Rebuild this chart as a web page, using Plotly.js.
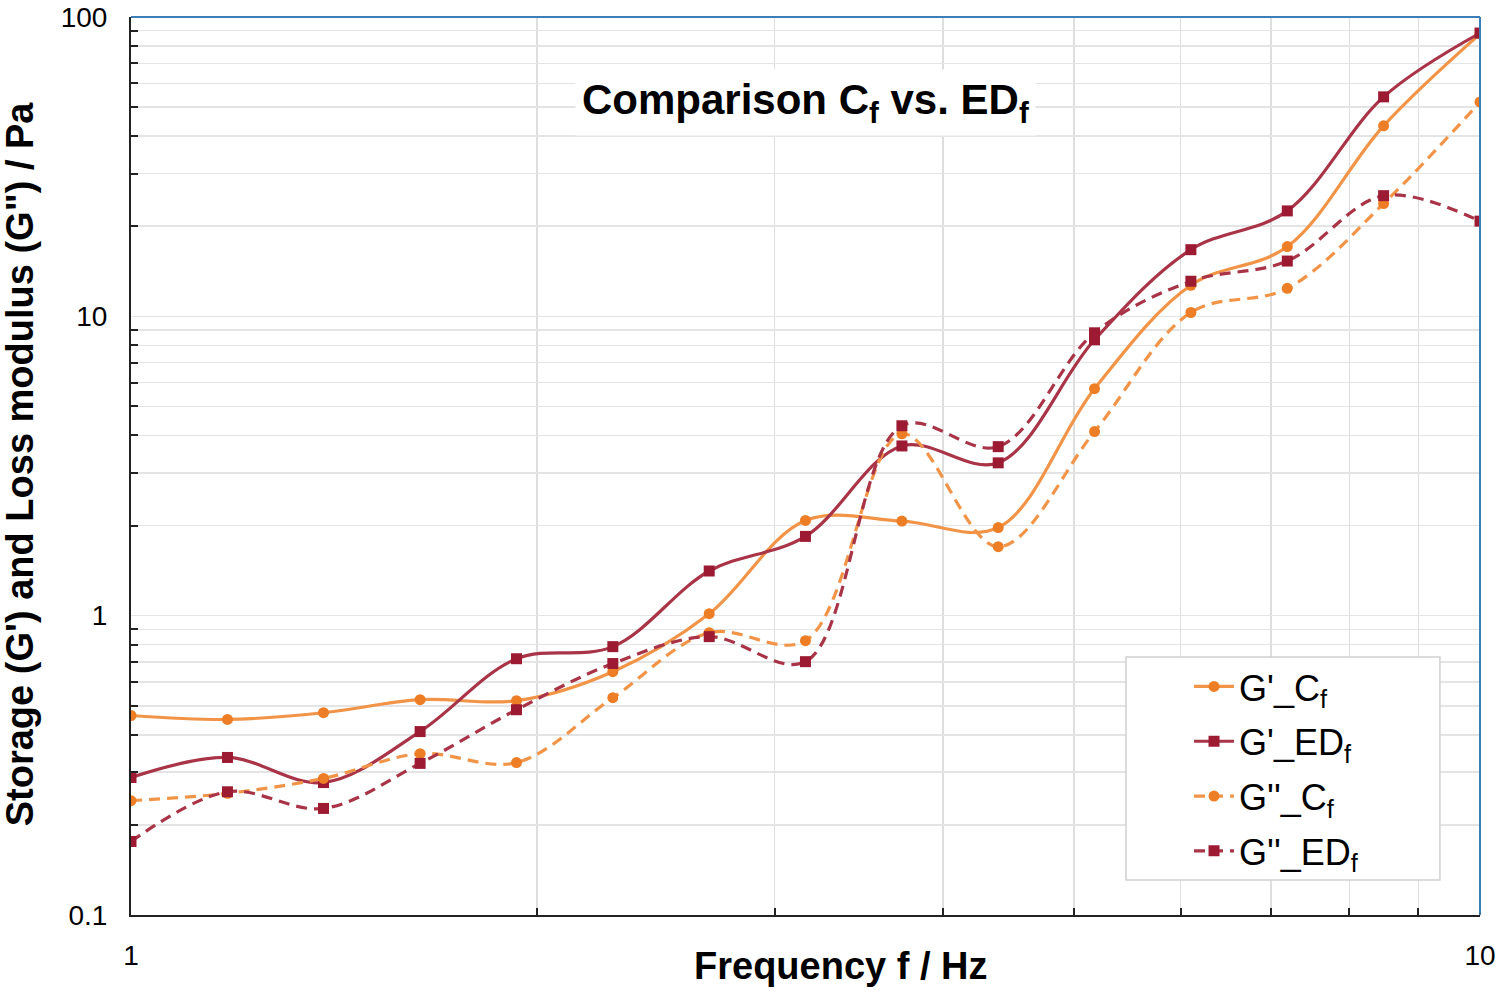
<!DOCTYPE html>
<html>
<head>
<meta charset="utf-8">
<script src="https://cdn.plot.ly/plotly-3.0.1.min.js"></script>
<style>html,body{margin:0;padding:0;background:#fff;}#chart{width:1500px;height:991px;}</style>
</head>
<body>
<div id="chart"></div>
<script>
// Frequencies (Hz)
const freq = [1, 1.179, 1.389, 1.638, 1.931, 2.276, 2.683, 3.162, 3.728, 4.394, 5.179, 6.105, 7.197, 8.483, 10];
// Moduli (Pa)
const gpC   = [0.464, 0.450, 0.474, 0.524, 0.520, 0.650, 1.015, 2.08, 2.07, 1.97, 5.73, 12.7, 17.1, 43.3, 87.8];
const gpED  = [0.288, 0.336, 0.277, 0.410, 0.718, 0.788, 1.41, 1.84, 3.69, 3.24, 8.35, 16.7, 22.5, 54.1, 88.4];
const gppC  = [0.241, 0.255, 0.286, 0.346, 0.323, 0.532, 0.877, 0.825, 4.05, 1.70, 4.12, 10.3, 12.4, 23.8, 52.0];
const gppED = [0.176, 0.258, 0.227, 0.321, 0.485, 0.692, 0.851, 0.702, 4.31, 3.67, 8.81, 13.1, 15.3, 25.3, 20.8];
const names = ["G'_C<sub>f</sub>", "G'_ED<sub>f</sub>", "G''_C<sub>f</sub>", "G''_ED<sub>f</sub>"];

const orangeLine = '#F29447', orangeMk = '#EE7E25';
const redLine = '#A93448', redMk = '#9C1B33';

function tr(y, name, lc, mc, sym, dash, grp) {
  return {
    x: freq, y: y, name: name, type: 'scatter', mode: 'lines+markers',
    legendgroup: grp,
    line: {color: lc, width: 3.2, shape: 'spline', smoothing: 1, dash: dash},
    marker: {color: mc, size: sym === 'square' ? 11 : 11, symbol: sym}
  };
}
const data = [
  tr(gpC, names[0], orangeLine, orangeMk, 'circle', 'solid', 'a'),
  tr(gpED, names[1], redLine, redMk, 'square', 'solid', 'b'),
  tr(gppC, names[2], orangeLine, orangeMk, 'circle', '11px,7px', 'c'),
  tr(gppED, names[3], redLine, redMk, 'square', '11px,7px', 'd')
];

const layout = {
  width: 1500, height: 991,
  margin: {l: 131, r: 20, t: 17, b: 76},
  paper_bgcolor: '#fff', plot_bgcolor: '#fff',
  font: {family: 'Liberation Sans, Arial, sans-serif', color: '#000'},
  showlegend: true,
  xaxis: {
    type: 'log', range: [0, 1],
    tickvals: [1, 10], ticktext: ['1', '10'],
    tickfont: {size: 28}, ticks: '',
    showgrid: false,
    showline: true, linecolor: '#222', linewidth: 2,
    zeroline: false,
    minor: {tickvals: [2,3,4,5,6,7,8,9], ticks: 'inside', ticklen: 7, tickcolor: '#222', tickwidth: 2, showgrid: true, gridcolor: '#dedede', gridwidth: 1.5},
    ticklabelstandoff: 14
  },
  yaxis: {
    type: 'log', range: [-1, 2],
    tickvals: [0.1, 1, 10, 100], ticktext: ['0.1', '1', '10', '100'],
    tickfont: {size: 28}, ticks: '',
    showgrid: true, gridcolor: '#e4e4e4', gridwidth: 1.5,
    showline: true, linecolor: '#222', linewidth: 2,
    zeroline: false,
    minor: {tickvals: [0.2,0.3,0.4,0.5,0.6,0.7,0.8,0.9,2,3,4,5,6,7,8,9,20,30,40,50,60,70,80,90], ticks: 'inside', ticklen: 7, tickcolor: '#222', tickwidth: 2, showgrid: true, gridcolor: '#e4e4e4', gridwidth: 1.5},
    ticklabelstandoff: 16
  },
  legend: {
    x: 0.7843, y: 0.2878, xanchor: 'left', yanchor: 'top',
    bgcolor: 'rgba(255,255,255,0)', borderwidth: 0,
    font: {size: 36, color: '#000'},
    tracegroupgap: 5,
    itemwidth: 40
  },
  shapes: [
    {type: 'rect', xref: 'paper', yref: 'paper', x0: 0.7376, x1: 0.9703, y0: 0.039, y1: 0.2873, layer: 'above',
     fillcolor: '#fff', line: {color: '#d0d0d0', width: 1.5}},
    {type: 'line', xref: 'paper', yref: 'paper', x0: 0, x1: 1, y0: 1, y1: 1, line: {color: '#3B7FB6', width: 2}},
    {type: 'line', xref: 'paper', yref: 'paper', x0: 1, x1: 1, y0: 0, y1: 1, line: {color: '#3B7FB6', width: 2}}
  ],
  annotations: [
    {text: '<b>Comparison C<sub>f</sub> vs. ED<sub>f</sub></b>', xref: 'paper', yref: 'paper', x: 0.5, y: 0.905,
     xanchor: 'center', yanchor: 'middle', showarrow: false, bgcolor: '#fff', borderpad: 6,
     font: {size: 42, color: '#000'}},
    {text: '<b>Frequency f / Hz</b>', xref: 'paper', yref: 'paper', x: 0.5265, y: -0.0568,
     xanchor: 'center', yanchor: 'middle', showarrow: false, font: {size: 38, color: '#000'}},
    {text: '<b>Storage (G\') and Loss modulus (G") / Pa</b>', xref: 'paper', yref: 'paper', x: -0.0823, y: 0.503,
     xanchor: 'center', yanchor: 'middle', textangle: -90, showarrow: false, font: {size: 38, color: '#000'}}
  ]
};

Plotly.newPlot('chart', data, layout, {displayModeBar: false, staticPlot: true});
</script>
</body>
</html>
